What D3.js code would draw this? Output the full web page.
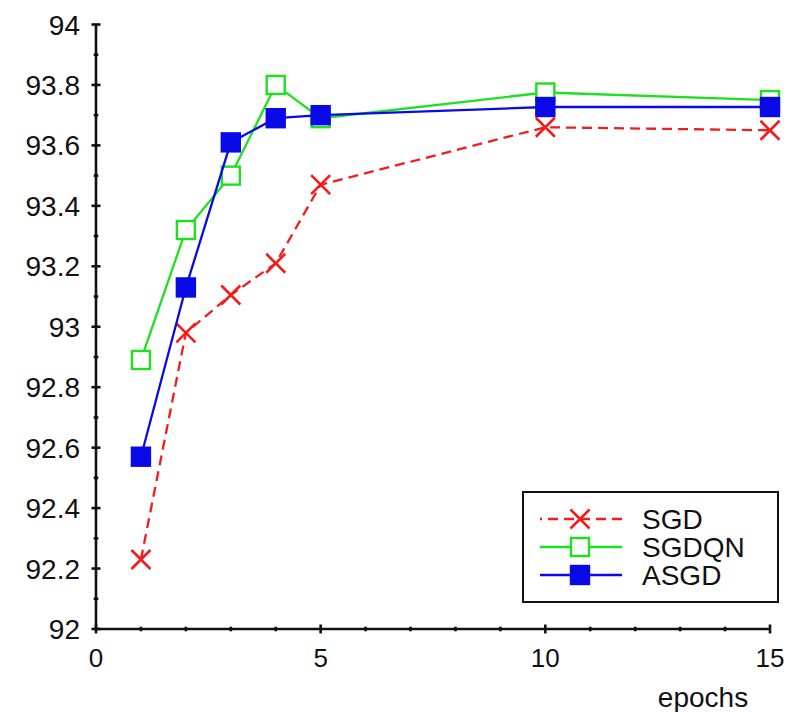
<!DOCTYPE html>
<html>
<head>
<meta charset="utf-8">
<script src="https://cdn.jsdelivr.net/npm/d3@7"></script>
<style>
  body { margin: 0; background: #fff; }
  text { font-family: "Liberation Sans", Arial, sans-serif; fill: #111; }
</style>
</head>
<body>
<div id="chart"></div>
<script>
// epochs vs accuracy
const epochs = [1, 2, 3, 4, 5, 10, 15];
const sgd    = [92.23, 92.98, 93.105, 93.21, 93.47, 93.66, 93.65];
const sgdqn  = [92.89, 93.32, 93.50, 93.80, 93.69, 93.775, 93.75];
const asgd   = [92.57, 93.13, 93.61, 93.69, 93.70, 93.727, 93.727];
const seriesNames = ["SGD", "SGDQN", "ASGD"];
const xTickLabels = [0, 5, 10, 15];
const yTickLabels = [92, 92.2, 92.4, 92.6, 92.8, 93, 93.2, 93.4, 93.6, 93.8, 94];

const W = 788, H = 712;

const svg = d3.select("#chart")
  .append("svg")
  .attr("width", W)
  .attr("height", H);

const x = d3.scaleLinear().domain([0, 15]).range([96, 770]);
const y = d3.scaleLinear().domain([92, 94]).range([629, 24.5]);

// axes (ticks cross the axis line)
const axis = svg.append("g").attr("stroke", "#111").attr("stroke-width", 2.6);
axis.append("line").attr("x1", x(0)).attr("x2", x(0)).attr("y1", y(92)).attr("y2", y(94));
axis.append("line").attr("x1", x(0)).attr("x2", x(15)).attr("y1", y(92)).attr("y2", y(92));

d3.range(92, 94.001, 0.1).forEach((v, i) => {
  const len = i % 2 === 0 ? 4.5 : 2.3;
  axis.append("line")
    .attr("x1", x(0) - len).attr("x2", x(0) + len)
    .attr("y1", y(v)).attr("y2", y(v));
});
d3.range(0, 16).forEach(v => {
  const len = v % 5 === 0 ? 4.5 : 2.3;
  axis.append("line")
    .attr("x1", x(v)).attr("x2", x(v))
    .attr("y1", y(92) - len).attr("y2", y(92) + len);
});

svg.append("g").selectAll("text")
  .data(yTickLabels)
  .enter().append("text")
  .attr("x", 80)
  .attr("y", d => y(d))
  .attr("dy", "0.36em")
  .attr("text-anchor", "end")
  .style("font-size", "28px")
  .text(d => d);

svg.append("g").selectAll("text")
  .data(xTickLabels)
  .enter().append("text")
  .attr("x", d => x(d))
  .attr("y", 667)
  .attr("text-anchor", "middle")
  .style("font-size", "26px")
  .text(d => d);

svg.append("text")
  .attr("x", 703).attr("y", 707)
  .attr("text-anchor", "middle")
  .style("font-size", "28px")
  .text("epochs");

// series styles
const styles = [
  { color: "#f21c1c", dash: "10,6", marker: "x" },
  { color: "#1ee01e", dash: null, marker: "open" },
  { color: "#0a0ae8", dash: null, marker: "filled" }
];
const allSeries = [sgd, sgdqn, asgd];

function drawMarker(g, type, color, cx, cy) {
  if (type === "x") {
    const s = 9.5;
    g.append("path")
      .attr("d", `M${cx - s},${cy - s}L${cx + s},${cy + s}M${cx - s},${cy + s}L${cx + s},${cy - s}`)
      .attr("stroke", color).attr("stroke-width", 2.6).attr("fill", "none");
  } else {
    const s = 9;
    g.append("rect")
      .attr("x", cx - s).attr("y", cy - s)
      .attr("width", 2 * s).attr("height", 2 * s)
      .attr("fill", type === "filled" ? color : "#fff")
      .attr("stroke", color).attr("stroke-width", 2.4);
  }
}

const line = d3.line().x(d => x(d[0])).y(d => y(d[1]));

allSeries.forEach((vals, i) => {
  const st = styles[i];
  const pts = epochs.map((e, j) => [e, vals[j]]);
  const g = svg.append("g");
  g.append("path")
    .datum(pts)
    .attr("d", line)
    .attr("fill", "none")
    .attr("stroke", st.color)
    .attr("stroke-width", 2.3)
    .attr("stroke-dasharray", st.dash);
  pts.forEach(p => drawMarker(g, st.marker, st.color, x(p[0]), y(p[1])));
});

// Legend bottom right
const legend = svg.append("g");
legend.append("rect")
  .attr("x", 523).attr("y", 492)
  .attr("width", 255).attr("height", 110)
  .attr("fill", "#fff").attr("stroke", "#111").attr("stroke-width", 2);

seriesNames.forEach((name, i) => {
  const st = styles[i];
  const ly = 519 + i * 28;
  legend.append("line")
    .attr("x1", 540).attr("x2", 622)
    .attr("y1", ly).attr("y2", ly)
    .attr("stroke", st.color).attr("stroke-width", 2.3)
    .attr("stroke-dasharray", st.dash)
    .attr("stroke-dashoffset", st.dash ? 8 : null);
  drawMarker(legend, st.marker, st.color, 580, ly);
  legend.append("text")
    .attr("x", 642).attr("y", ly + 10)
    .style("font-size", "28px")
    .text(name);
});
</script>
</body>
</html>
